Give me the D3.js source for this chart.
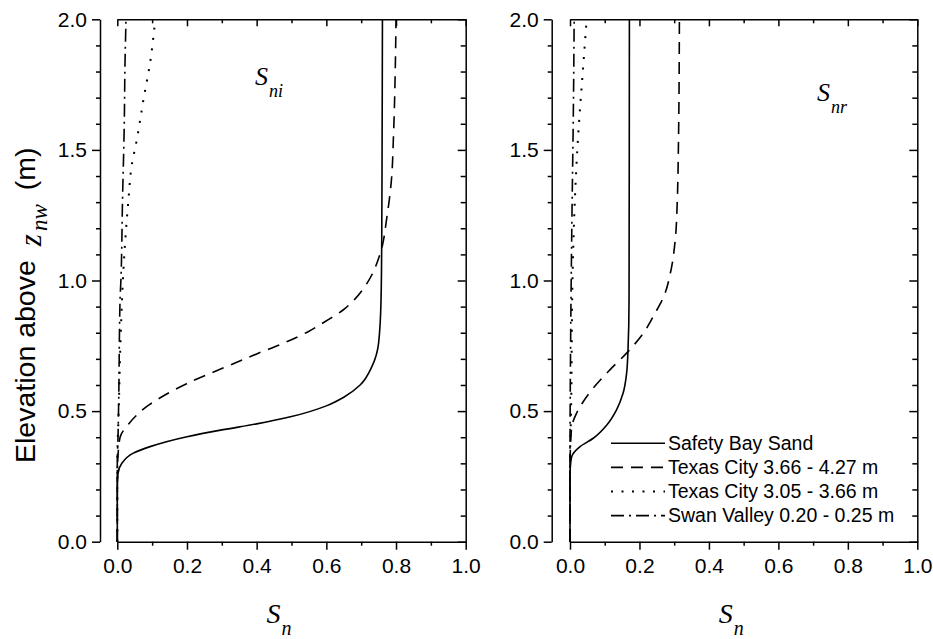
<!DOCTYPE html>
<html>
<head>
<meta charset="utf-8">
<script src="https://cdn.jsdelivr.net/npm/d3@7/dist/d3.min.js"></script>
<style>
  html, body { margin: 0; padding: 0; background: #fff; }
  svg { display: block; }
  .axis path, .axis line { stroke: #000; stroke-width: 1.5; }
  .axis text { font-family: "Liberation Sans", Arial, sans-serif; font-size: 21px; fill: #000; }
  .curve { fill: none; stroke: #000; }
  .legend text { font-family: "Liberation Sans", Arial, sans-serif; font-size: 19.5px; }
  .serif-it { font-family: "Liberation Serif", "Times New Roman", serif; font-style: italic; }
</style>
</head>
<body>
<svg id="chart" width="933" height="639"></svg>
<script>
// ── Data (S, z) pairs ────────────────────────────────────────────────────────
const seriesNames = [
  'Safety Bay Sand',
  'Texas City 3.66 - 4.27 m',
  'Texas City 3.05 - 3.66 m',
  'Swan Valley 0.20 - 0.25 m'
];

// left panel: S_ni
const safetyNi = [[0,0],[0,0.2],[0.002,0.26],[0.013,0.30],[0.046,0.339],[0.094,0.364],
  [0.2,0.402],[0.3,0.428],[0.4,0.451],[0.5,0.479],[0.6,0.52],[0.65,0.553],[0.697,0.60],
  [0.731,0.671],[0.75,0.76],[0.757,0.926],[0.759,1.156],[0.76,1.5],[0.761,2.0]];
const texasHighNi = [[0,0],[0,0.25],[0.002,0.33],[0.008,0.40],[0.032,0.45],[0.056,0.485],
  [0.084,0.517],[0.128,0.555],[0.199,0.605],[0.257,0.639],[0.333,0.681],[0.40,0.719],
  [0.477,0.76],[0.549,0.805],[0.597,0.843],[0.649,0.888],[0.68,0.926],[0.717,0.99],
  [0.755,1.105],[0.774,1.245],[0.786,1.373],[0.793,1.565],[0.798,1.82],[0.80,2.0]];
const texasLowNi = [[0,0],[0,0.3],[0.004,0.5],[0.01,0.8],[0.018,1.05],[0.025,1.194],
  [0.032,1.309],[0.041,1.437],[0.056,1.539],[0.075,1.692],[0.094,1.833],[0.109,2.0]];
const swanNi = [[0,0],[0,0.3],[0.002,0.4],[0.004,0.54],[0.008,0.93],[0.01,0.99],
  [0.015,1.31],[0.02,1.6],[0.022,1.82],[0.025,2.0]];

// right panel: S_nr
const safetyNr = [[0,0],[0,0.25],[0.001,0.287],[0.005,0.326],[0.029,0.364],[0.067,0.396],
  [0.106,0.447],[0.134,0.505],[0.153,0.569],[0.163,0.645],[0.167,0.734],[0.170,0.926],
  [0.171,2.0]];
const texasHighNr = [[0,0],[0,0.28],[0.002,0.38],[0.005,0.44],[0.019,0.492],[0.038,0.536],
  [0.067,0.588],[0.115,0.658],[0.163,0.722],[0.211,0.798],[0.245,0.875],[0.27,0.939],
  [0.291,1.041],[0.303,1.156],[0.309,1.309],[0.312,1.5],[0.315,2.0]];
const texasLowNr = [[0,0],[0,0.3],[0.003,0.5],[0.008,1.054],[0.014,1.309],[0.024,1.565],
  [0.038,1.82],[0.048,2.0]];
const swanNr = [[0,0],[0,0.3],[0.002,0.8],[0.005,1.18],[0.01,1.69],[0.012,2.0]];

const xMajor = [0, 0.2, 0.4, 0.6, 0.8, 1.0];
const xMinor = [0.1, 0.3, 0.5, 0.7, 0.9];
const zMajor = [0, 0.5, 1.0, 1.5, 2.0];
const zMinor = [0.1, 0.2, 0.3, 0.4, 0.6, 0.7, 0.8, 0.9, 1.1, 1.2, 1.3, 1.4, 1.6, 1.7, 1.8, 1.9];

// ── Layout ────────────────────────────────────────────────────────────────────
const PLOT_TOP    = 19.3;
const PLOT_BOTTOM = 541.7;
const DASHES = ['none', '12,8', '2,8.5', '13,5,2,5'];
const WIDTHS = [1.6, 1.6, 2, 1.6];

const panels = [
  { left: 117.3, right: 465.7, spine: 100,   sub: 'ni', labelX: 255, labelY: 85,
    series: [safetyNi, texasHighNi, texasLowNi, swanNi] },
  { left: 570,   right: 917.3, spine: 551.7, sub: 'nr', labelX: 817, labelY: 101,
    series: [safetyNr, texasHighNr, texasLowNr, swanNr] }
];

const svg = d3.select('#chart');
const fmt = d3.format('.1f');

panels.forEach(p => {
  const x = d3.scaleLinear().domain([0, 1]).range([p.left, p.right]);
  const y = d3.scaleLinear().domain([0, 2]).range([PLOT_BOTTOM, PLOT_TOP]);
  const g = svg.append('g');

  // ── Axes ───────────────────────────────────────────────────────────────────
  // offset y axis (left spine)
  g.append('g').attr('class', 'axis').attr('transform', `translate(${p.spine},0)`)
    .call(d3.axisLeft(y).tickValues(zMajor).tickSize(8).tickSizeOuter(0)
      .tickPadding(5).tickFormat(fmt));
  g.append('g').attr('class', 'axis').attr('transform', `translate(${p.spine},0)`)
    .call(d3.axisLeft(y).tickValues(zMinor).tickSize(4).tickFormat(''))
    .select('.domain').remove();

  // bottom
  g.append('g').attr('class', 'axis').attr('transform', `translate(0,${PLOT_BOTTOM})`)
    .call(d3.axisBottom(x).tickValues(xMajor).tickSize(8).tickSizeOuter(0)
      .tickPadding(8).tickFormat(fmt));
  g.append('g').attr('class', 'axis').attr('transform', `translate(0,${PLOT_BOTTOM})`)
    .call(d3.axisBottom(x).tickValues(xMinor).tickSize(4).tickFormat(''))
    .select('.domain').remove();

  // top border, ticks inward
  g.append('g').attr('class', 'axis').attr('transform', `translate(0,${PLOT_TOP})`)
    .call(d3.axisTop(x).tickValues(xMajor).tickSize(-7).tickSizeOuter(0).tickFormat(''));
  g.append('g').attr('class', 'axis').attr('transform', `translate(0,${PLOT_TOP})`)
    .call(d3.axisTop(x).tickValues(xMinor).tickSize(-4).tickFormat(''))
    .select('.domain').remove();

  // right border, ticks inward
  g.append('g').attr('class', 'axis').attr('transform', `translate(${p.right},0)`)
    .call(d3.axisRight(y).tickValues(zMajor).tickSize(-8).tickSizeOuter(0).tickFormat(''));
  g.append('g').attr('class', 'axis').attr('transform', `translate(${p.right},0)`)
    .call(d3.axisRight(y).tickValues(zMinor).tickSize(-5).tickFormat(''))
    .select('.domain').remove();

  // ── Curves ─────────────────────────────────────────────────────────────────
  const line = d3.line()
    .x(d => x(d[0]))
    .y(d => y(d[1]))
    .curve(d3.curveMonotoneY);

  g.selectAll('.curve')
    .data(p.series)
    .join('path')
    .attr('class', 'curve')
    .attr('stroke-width', (d, i) => WIDTHS[i])
    .attr('stroke-dasharray', (d, i) => DASHES[i])
    .attr('d', line);

  // ── Panel label S_ni / S_nr ────────────────────────────────────────────────
  const lab = g.append('text').attr('class', 'serif-it')
    .attr('x', p.labelX).attr('y', p.labelY);
  lab.append('tspan').attr('font-size', 26).text('S');
  lab.append('tspan').attr('font-size', 18).attr('dx', 1).attr('dy', 12).text(p.sub);

  // ── x title S_n ────────────────────────────────────────────────────────────
  const cx = (p.left + p.right) / 2;
  const xt = svg.append('text').attr('class', 'serif-it')
    .attr('x', cx - 25).attr('y', 623);
  xt.append('tspan').attr('font-size', 28).text('S');
  xt.append('tspan').attr('font-size', 20).attr('dx', 1).attr('dy', 12).text('n');
});

// ── y title ───────────────────────────────────────────────────────────────────
const yt = svg.append('text')
  .attr('transform', 'translate(35,463) rotate(-90)')
  .attr('font-family', '"Liberation Sans", Arial, sans-serif')
  .attr('font-size', 28.5);
yt.append('tspan').text('Elevation above');
yt.append('tspan').attr('class', 'serif-it').attr('font-size', 31)
  .attr('dx', 14).attr('dy', 6).text('z');
yt.append('tspan').attr('class', 'serif-it').attr('font-size', 23)
  .attr('dx', 3).attr('dy', 6).text('nw');
yt.append('tspan').attr('dx', 14).attr('dy', -12).text('(m)');

// ── Legend (right panel) ──────────────────────────────────────────────────────
const legend = svg.append('g').attr('class', 'legend');
const LEG_X0 = 611, LEG_X1 = 665, LEG_Y0 = 443.3, LEG_DY = 24.1;

const rows = legend.selectAll('g')
  .data(seriesNames)
  .join('g')
  .attr('transform', (d, i) => `translate(0,${LEG_Y0 + i * LEG_DY})`);

rows.append('line')
  .attr('class', 'curve')
  .attr('x1', LEG_X0).attr('x2', LEG_X1)
  .attr('stroke-width', (d, i) => WIDTHS[i])
  .attr('stroke-dasharray', (d, i) => DASHES[i]);

rows.append('text')
  .attr('x', LEG_X1 + 3)
  .attr('dy', '0.35em')
  .text(d => d);
</script>
</body>
</html>
